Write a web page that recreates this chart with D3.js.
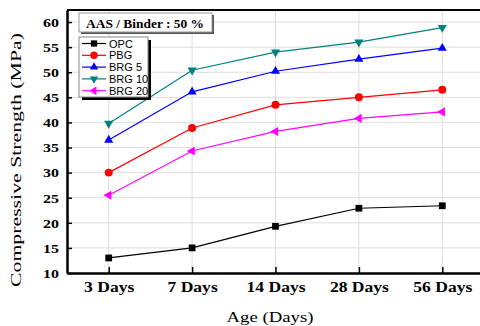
<!DOCTYPE html>
<html>
<head>
<meta charset="utf-8">
<script src="https://cdn.jsdelivr.net/npm/d3@7"></script>
<style>
  html, body { margin: 0; padding: 0; background: #fff; overflow: hidden; }
  svg { display: block; }
</style>
</head>
<body>
<svg id="chart"></svg>
<script>
const days = ["3 Days", "7 Days", "14 Days", "28 Days", "56 Days"]
const opc = [13.0, 15.0, 19.3, 22.9, 23.4]
const pbg = [30.0, 38.9, 43.5, 45.0, 46.5]
const brg5 = [36.5, 46.1, 50.2, 52.6, 54.8]
const brg10 = [39.8, 50.4, 54.0, 56.0, 58.9]
const brg20 = [25.5, 34.3, 38.2, 40.8, 42.1]
const yTicks = [10, 15, 20, 25, 30, 35, 40, 45, 50, 55, 60]

const series = [
    { name: "OPC", values: opc, color: "#000000", symbol: d3.symbolSquare, size: 46, rotate: 0 },
    { name: "PBG", values: pbg, color: "#ff0000", symbol: d3.symbolCircle, size: 50, rotate: 0 },
    { name: "BRG 5", values: brg5, color: "#0000ff", symbol: d3.symbolTriangle, size: 36, rotate: 0 },
    { name: "BRG 10", values: brg10, color: "#008080", symbol: d3.symbolTriangle, size: 36, rotate: 180 },
    { name: "BRG 20", values: brg20, color: "#ff00ff", symbol: d3.symbolTriangle, size: 36, rotate: -90 }
]

const width = 480
const height = 326
const plotLeft = 67, plotTop = 10, plotRight = 484, plotBottom = 273

const serif = "'Liberation Serif', 'Times New Roman', serif"
const sans = "'Liberation Sans', Arial, sans-serif"

const svg = d3.select("#chart").attr("width", width).attr("height", height)

const x = d3.scalePoint().domain(days).range([plotLeft, plotRight]).padding(0.5)
const y = d3.scaleLinear().domain([10, 62.4]).range([plotBottom, plotTop])

// stretch text horizontally to match the wide look of the original
const stretch = (sel, k) => {
    sel.each(function () {
        const w = this.getComputedTextLength()
        d3.select(this).attr("textLength", w * k).attr("lengthAdjust", "spacingAndGlyphs")
    })
}

// grid
const grid = svg.append("g").attr("stroke", "#dedede").attr("stroke-width", 1)
grid.selectAll("line.h")
    .data(yTicks.slice(1))
    .enter()
    .append("line")
    .attr("x1", plotLeft).attr("x2", plotRight)
    .attr("y1", (d) => y(d)).attr("y2", (d) => y(d))
grid.selectAll("line.v")
    .data(days)
    .enter()
    .append("line")
    .attr("x1", (d) => x(d)).attr("x2", (d) => x(d))
    .attr("y1", plotTop).attr("y2", plotBottom)

// top border
svg.append("line")
    .attr("x1", plotLeft).attr("x2", plotRight)
    .attr("y1", plotTop).attr("y2", plotTop)
    .attr("stroke", "#000").attr("stroke-width", 2)

// axes
const yAxis = svg.append("g")
    .attr("transform", `translate(${plotLeft},0)`)
    .call(d3.axisLeft(y).tickValues(yTicks).tickSizeInner(-5).tickSizeOuter(0).tickPadding(8))
yAxis.select(".domain").attr("stroke-width", 2.5)
yAxis.selectAll(".tick line").attr("stroke-width", 1.5)
yAxis.selectAll(".tick text")
    .attr("font-family", serif)
    .attr("font-weight", "bold")
    .attr("font-size", 13.5)
    .attr("fill", "#000")
    .call(stretch, 1.18)

const xAxis = svg.append("g")
    .attr("transform", `translate(0,${plotBottom})`)
    .call(d3.axisBottom(x).tickSizeInner(-6).tickSizeOuter(0).tickPadding(0))
xAxis.select(".domain").attr("stroke-width", 2.5)
xAxis.selectAll(".tick line").attr("stroke-width", 1.5)
xAxis.selectAll(".tick text")
    .attr("font-family", serif)
    .attr("font-weight", "bold")
    .attr("font-size", 15)
    .attr("fill", "#000")
    .attr("dy", null)
    .attr("y", 19)
    .call(stretch, 1.17)

// axis titles
svg.append("text")
    .attr("x", 270).attr("y", 322)
    .attr("text-anchor", "middle")
    .attr("font-family", serif)
    .attr("font-size", 14.5)
    .attr("textLength", 87)
    .attr("lengthAdjust", "spacingAndGlyphs")
    .text("Age (Days)")

svg.append("text")
    .attr("transform", "translate(21,160) rotate(-90)")
    .attr("text-anchor", "middle")
    .attr("font-family", serif)
    .attr("font-size", 15)
    .attr("textLength", 254)
    .attr("lengthAdjust", "spacingAndGlyphs")
    .text("Compressive Strength (MPa)")

// lines and markers
const line = d3.line().x((d, i) => x(days[i])).y((d) => y(d))

const plot = svg.append("g")
series.forEach((s) => {
    plot.append("path")
        .attr("d", line(s.values))
        .attr("fill", "none")
        .attr("stroke", s.color)
        .attr("stroke-width", 1.2)
    plot.selectAll(null)
        .data(s.values)
        .enter()
        .append("path")
        .attr("d", d3.symbol().type(s.symbol).size(s.size))
        .attr("transform", (d, i) => `translate(${x(days[i])},${y(d)}) rotate(${s.rotate})`)
        .attr("fill", s.color)
})

// annotation box
svg.append("rect")
    .attr("x", 81).attr("y", 15).attr("width", 133).attr("height", 19)
    .attr("fill", "#555")
svg.append("rect")
    .attr("x", 79).attr("y", 13).attr("width", 133).attr("height", 19)
    .attr("fill", "#fff").attr("stroke", "#999").attr("stroke-width", 1)
svg.append("text")
    .attr("x", 145).attr("y", 27.5)
    .attr("text-anchor", "middle")
    .attr("font-family", serif)
    .attr("font-weight", "bold")
    .attr("font-size", 11.5)
    .attr("textLength", 118)
    .attr("lengthAdjust", "spacingAndGlyphs")
    .text("AAS / Binder : 50 %")

// legend
const legend = svg.append("g")
legend.append("rect")
    .attr("x", 82).attr("y", 40).attr("width", 69).attr("height", 60)
    .attr("fill", "#000")
legend.append("rect")
    .attr("x", 79).attr("y", 37).attr("width", 69).attr("height", 60)
    .attr("fill", "#fff").attr("stroke", "#888").attr("stroke-width", 1)

const rowY = (i) => 43.5 + i * 11.8
const rows = legend.selectAll("g.row")
    .data(series)
    .enter()
    .append("g")
    .attr("transform", (d, i) => `translate(0,${rowY(i)})`)
rows.append("line")
    .attr("x1", 82).attr("x2", 106)
    .attr("stroke", (d) => d.color)
    .attr("stroke-width", 1.2)
rows.append("path")
    .attr("d", (d) => d3.symbol().type(d.symbol).size(d.size * 0.85)())
    .attr("transform", (d) => `translate(94,0) rotate(${d.rotate})`)
    .attr("fill", (d) => d.color)
rows.append("text")
    .attr("x", 109).attr("y", 4)
    .attr("font-family", sans)
    .attr("font-size", 11)
    .attr("fill", "#000")
    .text((d) => d.name)
</script>
</body>
</html>
